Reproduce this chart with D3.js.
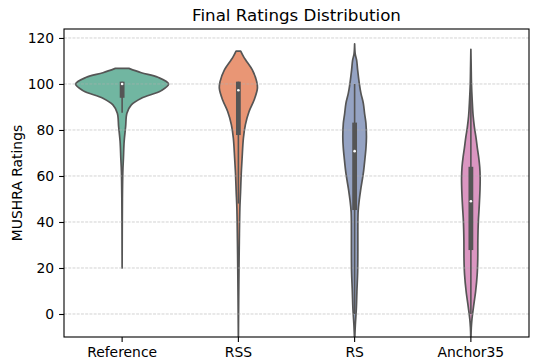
<!DOCTYPE html>
<html lang="en">
<head>
<meta charset="utf-8">
<title>Final Ratings Distribution</title>
<script src="https://cdn.jsdelivr.net/npm/d3@7"></script>
<style>
    body { margin: 0; background: #fff; }
    svg { display: block; font-family: "DejaVu Sans", sans-serif; }
</style>
</head>
<body>
<script>
// categories + seaborn Set2 (desaturated) colours
const categories = ["Reference", "RSS", "RS", "Anchor35"];
const colors = ["#71b6a1", "#e99675", "#95a3c3", "#db96c1"];

// violin outlines: [rating, density relative to widest violin]
const refDensity = [[106.8,0.146],[104.9,0.413],[102.9,0.77],[100,1.0],[97.1,0.843],[93.8,0.413],
    [90.9,0.198],[87.3,0.103],[81.4,0.075],[74.9,0.043],[67.7,0.028],[61.9,0.015],[50,0.006],[20,0]];
const rssDensity = [[114.3,0.05],[112,0.108],[110.4,0.157],[106.1,0.30],[101,0.394],[98.1,0.409],
    [93,0.338],[88,0.23],[82.2,0.15],[76.4,0.108],[67.7,0.08],[60.4,0.06],[53.2,0.047],[46,0.032],
    [31.4,0.02],[20,0.013],[5,0.006],[-12,0]];
const rsDensity = [[117.4,0],[113,0.013],[110.4,0.043],[106,0.065],[100.3,0.10],[96,0.135],[91.6,0.187],
    [87,0.215],[82.9,0.243],[77,0.254],[72,0.243],[68.4,0.226],[61.2,0.187],[53.9,0.129],[49.6,0.10],
    [44.5,0.075],[35.8,0.069],[27.1,0.069],[18.4,0.065],[9.7,0.049],[2.5,0.037],[-4.8,0.015],[-12,0]];
const anchorDensity = [[115.1,0],[108,0.006],[100,0.013],[93,0.028],[86,0.049],[81,0.077],[77,0.108],
    [72,0.14],[68.4,0.166],[64,0.19],[59,0.2],[54,0.196],[47,0.18],[40,0.16],[32,0.15],[24,0.148],
    [17,0.135],[10,0.103],[3,0.056],[-2,0.024],[-6,0.009],[-12,0]];
const densities = [refDensity, rssDensity, rsDensity, anchorDensity];

// inner box: [lower whisker, q1, median, q3, upper whisker]
const refBox = [87.5, 94, 100, 101, 101];
const rssBox = [48, 77.8, 97.3, 101, 101];
const rsBox = [0, 45.2, 70.8, 83.2, 100];
const anchorBox = [0, 27.8, 49, 64, 100];
const boxes = [refBox, rssBox, rsBox, anchorBox];

const yTicks = [0, 20, 40, 60, 80, 100, 120];

// layout
const w = 540, h = 362;
const m = {top: 29, right: 11, bottom: 25, left: 64};
const iw = w - m.left - m.right, ih = h - m.top - m.bottom;
const grey = "#555555";

const svg = d3.select("body").append("svg")
    .attr("width", w)
    .attr("height", h);

const x = d3.scaleBand().domain(categories).range([0, iw]).padding(0);
const y = d3.scaleLinear().domain([-10, 123.9]).range([ih, 0]);
const wScale = d3.scaleLinear().domain([0, 1]).range([0, x.bandwidth() * 0.4]);

svg.append("clipPath").attr("id", "plot-area")
    .append("rect").attr("width", iw).attr("height", ih);

const g = svg.append("g").attr("transform", `translate(${m.left},${m.top})`);
const plot = g.append("g").attr("clip-path", "url(#plot-area)");

// violins
categories.forEach(function(c, i) {
    const cx = x(c) + x.bandwidth() / 2;
    const area = d3.area()
        .curve(d3.curveCatmullRom.alpha(0.5))
        .y(d => y(d[0]))
        .x0(d => cx - wScale(d[1]))
        .x1(d => cx + wScale(d[1]));
    plot.append("path")
        .datum(densities[i])
        .attr("d", area)
        .attr("fill", colors[i])
        .attr("stroke", grey)
        .attr("stroke-width", 1.7)
        .attr("stroke-linejoin", "round");
});

// grid (sits above violins, below boxes)
plot.append("g").selectAll("line")
    .data(yTicks)
    .join("line")
    .attr("x1", 0).attr("x2", iw)
    .attr("y1", d => y(d)).attr("y2", d => y(d))
    .attr("stroke", "#b0b0b0")
    .attr("stroke-opacity", 0.7)
    .attr("stroke-width", 0.8)
    .attr("stroke-dasharray", "2.96,1.28");

// inner boxes
categories.forEach(function(c, i) {
    const cx = x(c) + x.bandwidth() / 2;
    const b = boxes[i];
    plot.append("line")
        .attr("x1", cx).attr("x2", cx)
        .attr("y1", y(b[0])).attr("y2", y(b[4]))
        .attr("stroke", grey).attr("stroke-width", 1.6);
    plot.append("rect")
        .attr("x", cx - 2.4).attr("width", 4.8)
        .attr("y", y(b[3])).attr("height", y(b[1]) - y(b[3]))
        .attr("fill", grey);
    plot.append("circle")
        .attr("cx", cx).attr("cy", y(b[2]))
        .attr("r", 1.3)
        .attr("fill", "white");
});

// axes
const xAxis = d3.axisBottom(x).tickSize(4.9).tickPadding(4.9).tickSizeOuter(0);
const yAxis = d3.axisLeft(y).tickValues(yTicks).tickSize(4.9).tickPadding(4.9).tickSizeOuter(0);

g.append("g")
    .attr("transform", `translate(0,${ih})`)
    .call(xAxis)
    .call(a => a.select(".domain").remove());
g.append("g")
    .call(yAxis)
    .call(a => a.select(".domain").remove());

g.selectAll(".tick line").attr("stroke", "black").attr("stroke-width", 1.1);
g.selectAll(".tick text").attr("font-size", "13.9px").attr("fill", "black")
    .attr("font-family", "DejaVu Sans, sans-serif");

// frame
g.append("rect")
    .attr("width", iw).attr("height", ih)
    .attr("fill", "none")
    .attr("stroke", "black")
    .attr("stroke-width", 1.1);

// title and y label
svg.append("text")
    .attr("x", m.left + iw / 2).attr("y", 20.7)
    .attr("text-anchor", "middle")
    .attr("font-size", "16.7px")
    .text("Final Ratings Distribution");

svg.append("text")
    .attr("transform", `translate(22,${m.top + ih / 2}) rotate(-90)`)
    .attr("text-anchor", "middle")
    .attr("font-size", "13.9px")
    .text("MUSHRA Ratings");
</script>
</body>
</html>
